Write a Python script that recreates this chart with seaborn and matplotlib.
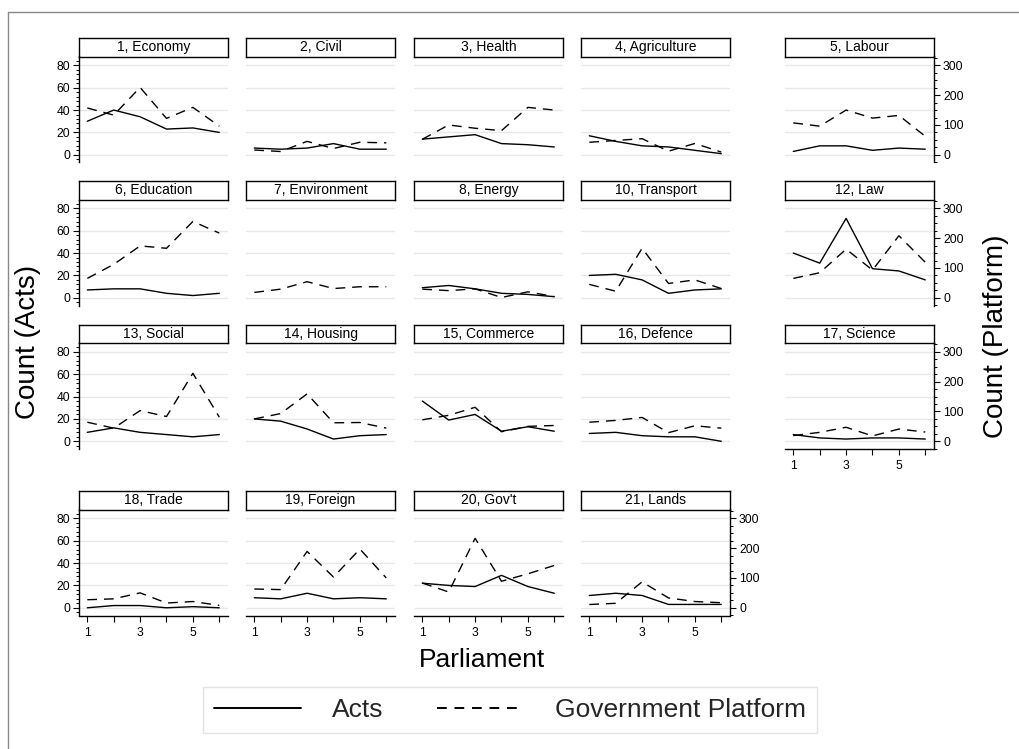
import numpy as np
import pandas as pd
import matplotlib
matplotlib.use("Agg")
import matplotlib.pyplot as plt
import seaborn as sns
from matplotlib.lines import Line2D
from matplotlib.ticker import MultipleLocator, FixedLocator

sns.set_theme(style="white")
plt.rcParams["font.family"] = ["Liberation Sans", "DejaVu Sans"]

# ---------------- data ----------------
parliaments = [1, 2, 3, 4, 5, 6]
topics = ["1, Economy", "2, Civil", "3, Health", "4, Agriculture", "5, Labour",
          "6, Education", "7, Environment", "8, Energy", "10, Transport", "12, Law",
          "13, Social", "14, Housing", "15, Commerce", "16, Defence", "17, Science",
          "18, Trade", "19, Foreign", "20, Gov't", "21, Lands"]

acts_economy = [30, 40, 34, 23, 24, 20]
acts_civil = [6, 5, 6, 10, 5, 5]
acts_health = [14, 16, 18, 10, 9, 7]
acts_agriculture = [17, 12, 8, 7, 4, 1]
acts_labour = [3, 8, 8, 4, 6, 5]
acts_education = [7, 8, 8, 4, 2, 4]
acts_environment = [np.nan] * 6
acts_energy = [9, 11, 8, 4, 3, 1]
acts_transport = [20, 21, 16, 4, 7, 8]
acts_law = [40, 31, 71, 26, 24, 16]
acts_social = [8, 12, 8, 6, 4, 6]
acts_housing = [20, 18, 11, 2, 5, 6]
acts_commerce = [36, 19, 24, 9, 13, 9]
acts_defence = [7, 8, 5, 4, 4, 0]
acts_science = [6, 3, 2, 3, 3, 2]
acts_trade = [0, 2, 2, 0, 1, 0]
acts_foreign = [9, 8, 13, 8, 9, 8]
acts_govt = [22, 20, 19, 29, 19, 13]
acts_lands = [11, 13, 11, 3, 3, 3]

plat_economy = [157, 133, 226, 122, 159, 96]
plat_civil = [16, 11, 45, 21, 42, 40]
plat_health = [52, 100, 89, 81, 159, 150]
plat_agriculture = [42, 48, 54, 12, 38, 9]
plat_labour = [107, 96, 150, 123, 132, 62]
plat_education = [65, 112, 174, 166, 256, 217]
plat_environment = [18, 29, 54, 31, 37, 37]
plat_energy = [29, 24, 30, 1, 20, 4]
plat_transport = [45, 22, 166, 48, 60, 31]
plat_law = [65, 84, 163, 93, 208, 119]
plat_social = [64, 44, 103, 83, 228, 81]
plat_housing = [75, 93, 159, 62, 63, 44]
plat_commerce = [72, 87, 114, 32, 50, 53]
plat_defence = [64, 70, 80, 29, 52, 44]
plat_science = [19, 30, 47, 18, 41, 31]
plat_trade = [27, 30, 50, 16, 21, 8]
plat_foreign = [63, 61, 189, 103, 197, 100]
plat_govt = [83, 53, 233, 89, 114, 142]
plat_lands = [11, 15, 87, 33, 21, 17]

acts_all = [acts_economy, acts_civil, acts_health, acts_agriculture, acts_labour,
            acts_education, acts_environment, acts_energy, acts_transport, acts_law,
            acts_social, acts_housing, acts_commerce, acts_defence, acts_science,
            acts_trade, acts_foreign, acts_govt, acts_lands]
plat_all = [plat_economy, plat_civil, plat_health, plat_agriculture, plat_labour,
            plat_education, plat_environment, plat_energy, plat_transport, plat_law,
            plat_social, plat_housing, plat_commerce, plat_defence, plat_science,
            plat_trade, plat_foreign, plat_govt, plat_lands]

rows = []
for t, a, p in zip(topics, acts_all, plat_all):
    for x, av, pv in zip(parliaments, a, p):
        rows.append({"topic": t, "parliament": x, "acts": av, "platform": pv})
df = pd.DataFrame(rows)

# ---------------- layout ----------------
W, H = 1019, 749
fig = plt.figure(figsize=(W / 100, H / 100), dpi=100)
fig.patch.set_facecolor("white")

def px_axes(x, y, w, h):
    return fig.add_axes([x / W, 1 - (y + h) / H, w / W, h / H])

col_left = [79, 246, 414, 581, 785]
strip_top = [38, 181, 324.5, 491]
panel_w = 149
strip_h = 18.5
ax_h = 106
ylim_acts = (-6.9, 87.9)
ratio = 300 / 80.0
ylim_plat = (ylim_acts[0] * ratio, ylim_acts[1] * ratio)

positions = []
for r in range(3):
    for c in range(5):
        positions.append((r, c))
for c in range(4):
    positions.append((3, c))

right_panels = {"5, Labour", "12, Law", "17, Science", "21, Lands"}
bottom_panels = {"17, Science", "18, Trade", "19, Foreign", "20, Gov't", "21, Lands"}

tick_fs = 8.7
dash = (0, (7, 5))

for t, (r, c) in zip(topics, positions):
    x0 = col_left[c]
    y0 = strip_top[r]
    # strip
    sax = px_axes(x0, y0, panel_w, strip_h)
    sax.set_xticks([]); sax.set_yticks([])
    for s in sax.spines.values():
        s.set_visible(True); s.set_color("black"); s.set_linewidth(1.0)
    sax.text(0.5, 0.5, t, ha="center", va="center", fontsize=10, color="black",
             transform=sax.transAxes)
    # panel
    ax = px_axes(x0, y0 + strip_h, panel_w, ax_h)
    ax.set_facecolor("none")
    ax2 = ax.twinx()
    sub = df[df["topic"] == t]
    if sub["acts"].notna().any():
        sns.lineplot(data=sub, x="parliament", y="acts", ax=ax, color="black",
                     linewidth=1.0, errorbar=None)
    sns.lineplot(data=sub, x="parliament", y="platform", ax=ax2, color="black",
                 linewidth=1.0, linestyle=dash, errorbar=None)

    ax.set_xlim(0.685, 6.33)
    ax.set_ylim(*ylim_acts)
    ax.yaxis.set_major_locator(FixedLocator([0, 20, 40, 60, 80]))
    ax.yaxis.set_minor_locator(MultipleLocator(4))
    ax.xaxis.set_major_locator(FixedLocator([1, 2, 3, 4, 5, 6]))
    ax.xaxis.set_major_formatter(matplotlib.ticker.FuncFormatter(
        lambda v, p: f"{int(v)}" if int(v) % 2 == 1 else ""))
    ax.grid(True, axis="y", which="major", color="#e8e8e8", linewidth=1.0)
    ax.set_axisbelow(True)
    ax.set_xlabel(""); ax.set_ylabel("")
    for s in ax.spines.values():
        s.set_visible(False)
    is_left = (c == 0)
    is_bottom = t in bottom_panels
    ax.tick_params(axis="y", which="major", left=is_left, labelleft=is_left,
                   right=False, labelright=False, length=4, width=0.8,
                   direction="out", labelsize=tick_fs, pad=2.5, colors="black")
    ax.tick_params(axis="y", which="minor", left=is_left, right=False,
                   length=2.5, width=0.7, direction="out", colors="black")
    ax.tick_params(axis="x", which="both", bottom=is_bottom, labelbottom=is_bottom,
                   top=False, length=4, width=0.8, direction="out",
                   labelsize=tick_fs, pad=4, colors="black")
    if is_left:
        ax.spines["left"].set_visible(True)
        ax.spines["left"].set_color("black")
        ax.spines["left"].set_linewidth(1.0)
    if is_bottom:
        ax.spines["bottom"].set_visible(True)
        ax.spines["bottom"].set_color("black")
        ax.spines["bottom"].set_linewidth(1.0)

    ax2.set_ylim(*ylim_plat)
    ax2.set_xlim(0.685, 6.33)
    ax2.set_ylabel(""); ax2.set_xlabel("")
    for s in ax2.spines.values():
        s.set_visible(False)
    is_right = t in right_panels
    ax2.yaxis.set_major_locator(FixedLocator([0, 100, 200, 300]))
    ax2.yaxis.set_minor_locator(MultipleLocator(25))
    ax2.tick_params(axis="y", which="major", right=is_right, labelright=is_right,
                    left=False, labelleft=False, length=4, width=0.8,
                    direction="out", labelsize=tick_fs, pad=2.5, colors="black")
    ax2.tick_params(axis="y", which="minor", right=is_right, left=False,
                    length=2.5, width=0.7, direction="out", colors="black")
    ax2.tick_params(axis="x", which="both", bottom=False, labelbottom=False, top=False)
    if is_right:
        ax2.spines["right"].set_visible(True)
        ax2.spines["right"].set_color("black")
        ax2.spines["right"].set_linewidth(1.0)

# axis titles
fig.text(28 / W, 1 - 342 / H, "Count (Acts)", rotation=90, ha="center", va="center",
         fontsize=20, color="black")
fig.text(996 / W, 1 - 336 / H, "Count (Platform)", rotation=90, ha="center",
         va="center", fontsize=20, color="black")
fig.text(482 / W, 1 - 660 / H, "Parliament", ha="center", va="center",
         fontsize=19, color="black")

# legend
handles = [Line2D([], [], color="black", linewidth=1.4),
           Line2D([], [], color="black", linewidth=1.4, linestyle=(0, (5, 4)))]
leg = fig.legend(handles, ["Acts", "Government Platform"], loc="center",
                 bbox_to_anchor=(510 / W, 1 - 710 / H), ncol=2, fontsize=19,
                 frameon=True, fancybox=False, edgecolor="#dddddd",
                 handlelength=3.3, handletextpad=1.2, columnspacing=2.0,
                 borderpad=0.4)
leg.get_frame().set_linewidth(1.0)

# outer frame (left and top edges)
fig.add_artist(Line2D([8 / W, 8 / W], [0, 1 - 12 / H], color="#888888",
                      linewidth=1.0, transform=fig.transFigure))
fig.add_artist(Line2D([8 / W, 1], [1 - 12 / H, 1 - 12 / H], color="#888888",
                      linewidth=1.0, transform=fig.transFigure))

fig.savefig("out.png", dpi=100, facecolor="white")
